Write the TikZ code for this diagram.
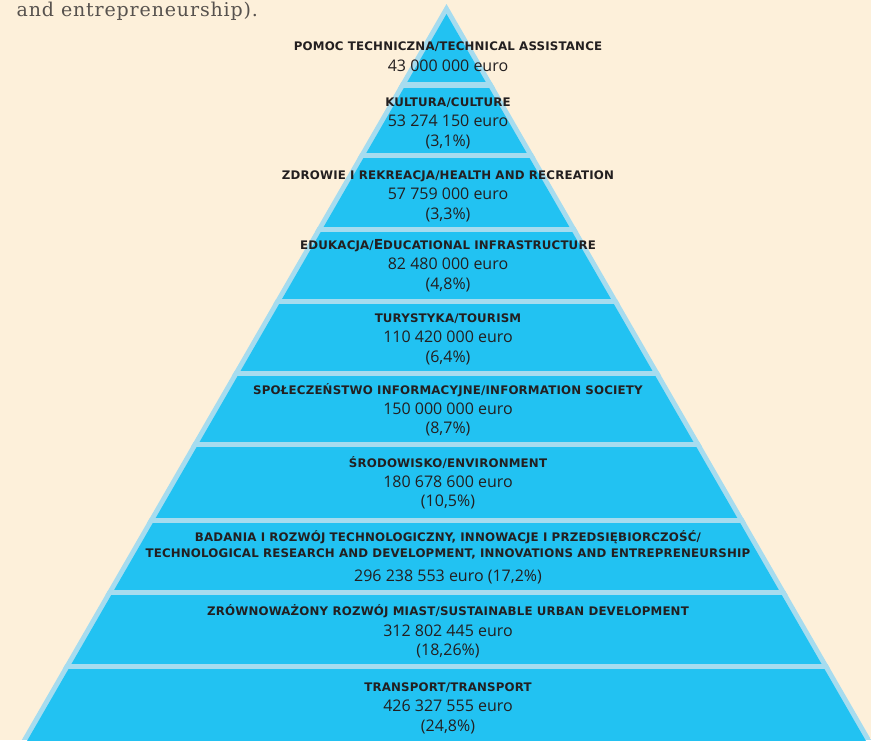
\documentclass[tikz,border=0pt]{standalone}
\usepackage{graphicx}
\usepackage{fontspec}
\setmainfont{Open Sans}
\newfontfamily\capfont[LetterSpace=1.5]{DejaVu Sans}
\newfontfamily\topfont[LetterSpace=4.5]{DejaVu Serif}
\definecolor{bg}{HTML}{FDF0DA}
\definecolor{lb}{HTML}{A6DCEF}
\definecolor{cy}{HTML}{22C2F2}
\definecolor{txt}{HTML}{231F20}
\definecolor{toptxt}{HTML}{57524E}
\begin{document}
\begin{tikzpicture}[x=1pt,y=-1pt,
  captxt/.style={font=\capfont\bfseries\fontsize{11.8}{13}\selectfont, text=txt, anchor=base, inner sep=0pt},
  numtxt/.style={font=\fontsize{16}{19}\selectfont, text=txt, anchor=base, inner sep=0pt},
  sepline/.style={draw=lb, line width=5.5pt}]
\fill[bg] (0,0) rectangle (871,740);
\useasboundingbox (0,0) rectangle (871,740);
\begin{scope}
  \clip (0,0) rectangle (871,740);
  \clip (446.5,4) -- (894.3,780) -- (-1.3,780) -- cycle;
  \fill[lb] (0,0) rectangle (871,740);
  \fill[cy] (446.5,14) -- (888.5,780) -- (4.5,780) -- cycle;
  \foreach \yy in {85,155.5,229.5,301.5,373.5,444.5,520.5,592.5,666.5}
    \draw[sepline] (0,\yy) -- (871,\yy);
\end{scope}

\node[anchor=base west, inner sep=0pt, text=toptxt, font=\topfont\fontsize{19}{19}\selectfont] (top) at (16.5,16.5) {and entrepreneurship).};

\node[captxt] (c1) at (448,50.5) {POMOC TECHNICZNA/TECHNICAL ASSISTANCE};
\node[numtxt] (n1) at (448,71) {43 000 000 euro};

\node[captxt] (c2) at (448,106) {KULTURA/CULTURE};
\node[numtxt] (n2) at (448,126.5) {53 274 150 euro};
\node[numtxt] (p2) at (448,146) {(3,1\%)};

\node[captxt] (c3) at (448,179) {ZDROWIE I REKREACJA/HEALTH AND RECREATION};
\node[numtxt] (n3) at (448,199.5) {57 759 000 euro};
\node[numtxt] (p3) at (448,219) {(3,3\%)};

\node[captxt] (c4) at (448,249) {EDUKACJA/{\fontsize{13.8}{13}\selectfont E}DUCATIONAL INFRASTRUCTURE};
\node[numtxt] (n4) at (448,269.5) {82 480 000 euro};
\node[numtxt] (p4) at (448,289) {(4,8\%)};

\node[captxt] (c5) at (448,322) {TURYSTYKA/TOURISM};
\node[numtxt] (n5) at (448,342.5) {110 420 000 euro};
\node[numtxt] (p5) at (448,362) {(6,4\%)};

\node[captxt] (c6) at (448,394) {SPOŁECZEŃSTWO INFORMACYJNE/INFORMATION SOCIETY};
\node[numtxt] (n6) at (448,414) {150 000 000 euro};
\node[numtxt] (p6) at (448,433.5) {(8,7\%)};

\node[captxt] (c7) at (448,467) {ŚRODOWISKO/ENVIRONMENT};
\node[numtxt] (n7) at (448,487) {180 678 600 euro};
\node[numtxt] (p7) at (448,506.5) {(10,5\%)};

\node[captxt] (c8a) at (448,541) {BADANIA I ROZWÓJ TECHNOLOGICZNY, INNOWACJE I PRZEDSIĘBIORCZOŚĆ/};
\node[captxt] (c8b) at (448,557) {TECHNOLOGICAL RESEARCH AND DEVELOPMENT, INNOVATIONS AND ENTREPRENEURSHIP};
\node[numtxt] (n8) at (448,581) {296 238 553 euro (17,2\%)};

\node[captxt] (c9) at (448,615) {ZRÓWNOWAŻONY ROZWÓJ MIAST/SUSTAINABLE URBAN DEVELOPMENT};
\node[numtxt] (n9) at (448,636) {312 802 445 euro};
\node[numtxt] (p9) at (448,655.5) {(18,26\%)};

\node[captxt] (c10) at (448,691.5) {TRANSPORT/TRANSPORT};
\node[numtxt] (n10) at (448,711.5) {426 327 555 euro};
\node[numtxt] (p10) at (448,731) {(24,8\%)};
\end{tikzpicture}
\end{document}
